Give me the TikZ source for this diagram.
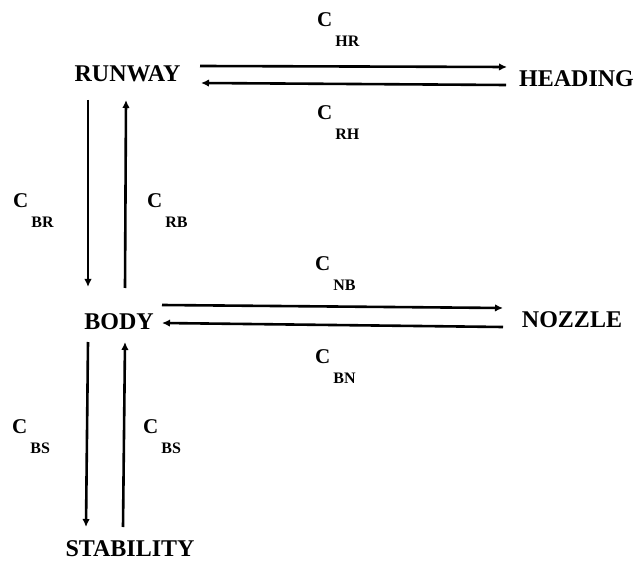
\documentclass[tikz,border=0pt]{standalone}
\usepackage{fontspec}
\setmainfont{Liberation Serif}
\usetikzlibrary{arrows.meta,calc}
\newcommand{\clab}[1]{C\kern3pt\raisebox{-20pt}{\fontsize{16}{16}\selectfont #1}}
\tikzset{
  state/.style={inner sep=0pt, font=\fontsize{24}{24}\selectfont\bfseries},
  lab/.style={inner sep=0pt, anchor=base west, font=\fontsize{21}{21}\selectfont\bfseries},
  arr/.style={line width=2.6pt, -{Latex[length=8pt,width=7.5pt]}}
}
\begin{document}
\begin{tikzpicture}[x=1pt,y=-1pt]
\useasboundingbox (0,0) rectangle (637,561);
\node[state] (runway) at (127.5,74) {RUNWAY};
\node[state] (heading) at (576.5,79) {HEADING};
\node[state] (body) at (119,322) {BODY};
\node[state] (nozzle) at (572,320) {NOZZLE};
\node[state] (stab) at (130,548.5) {STABILITY};
% runway <-> heading
\draw[arr] ($(runway.center)+(72.5,-8)$) -- ($(heading.center)+(-69.5,-12)$);
\draw[arr] ($(heading.center)+(-70.5,6)$) -- ($(runway.center)+(73.5,9)$);
% body <-> nozzle
\draw[arr] ($(body.center)+(43,-17)$) -- ($(nozzle.center)+(-69,-12)$);
\draw[arr] ($(nozzle.center)+(-69,7)$) -- ($(body.center)+(43,1)$);
% runway <-> body
\draw[arr] ($(runway.center)+(-39.5,26)$) -- ($(body.center)+(-31,-35)$);
\draw[arr] ($(body.center)+(6,-34)$) -- ($(runway.center)+(-1.5,26)$);
% body <-> stability
\draw[arr] ($(body.center)+(-31,20)$) -- ($(stab.center)+(-44,-21.5)$);
\draw[arr] ($(stab.center)+(-7,-21.5)$) -- ($(body.center)+(6,20)$);
% labels
\node[lab] (chr) at (317,27) {\clab{HR}};
\node[lab] (crh) at (317,120) {\clab{RH}};
\node[lab] (cbr) at (13,208) {\clab{BR}};
\node[lab] (crb) at (147,208) {\clab{RB}};
\node[lab] (cnb) at (315,271) {\clab{NB}};
\node[lab] (cbn) at (315,363) {\clab{BN}};
\node[lab] (cbs1) at (12,433) {\clab{BS}};
\node[lab] (cbs2) at (143,433) {\clab{BS}};
\end{tikzpicture}
\end{document}
